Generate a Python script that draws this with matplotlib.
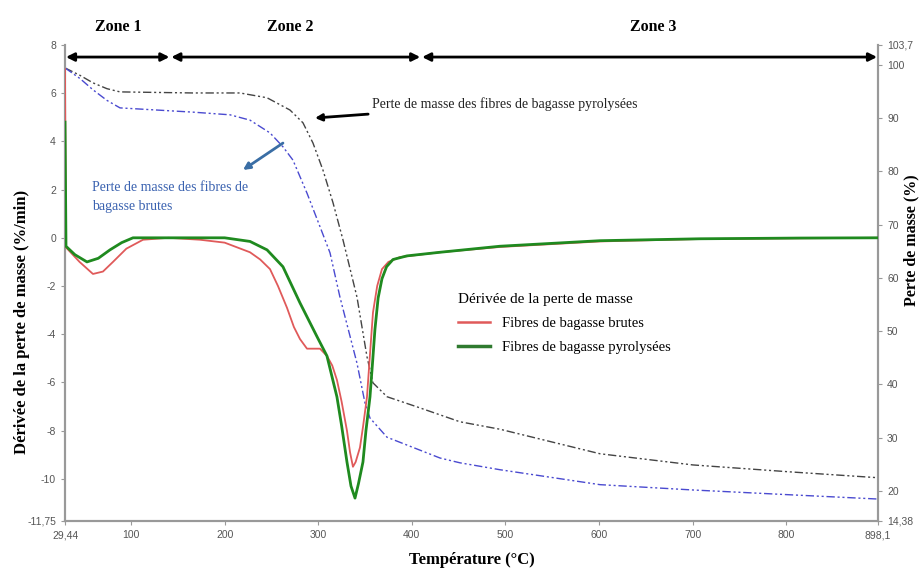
import numpy as np
import matplotlib
matplotlib.use("Agg")
import matplotlib.pyplot as plt
from matplotlib.lines import Line2D

# derivative curves (left axis, %/min)
T_brutes = [29.44, 30.5, 45, 59.3, 70, 80.7, 95, 112.8, 140, 173.7, 200, 227.1, 238, 248.5, 257,
            266.6, 274, 280.5, 288.0, 301.9, 309.3, 315, 320.0, 325, 330.7, 334, 337.1, 340,
            344.6, 348, 352.1, 355, 358.5, 363, 368.1, 375, 387.3, 430.1, 494, 601, 708, 815,
            898.1]
dtg_brutes = [7.0, -0.4, -1.0, -1.5, -1.4, -1.0, -0.45, -0.08, 0.0, -0.08, -0.2, -0.6, -0.9,
              -1.3, -2.0, -2.9, -3.7, -4.2, -4.6, -4.6, -4.9, -5.3, -5.9, -6.8, -8.0, -8.9,
              -9.5, -9.3, -8.7, -7.8, -6.6, -5.0, -3.1, -2.0, -1.3, -1.0, -0.8, -0.6, -0.38,
              -0.15, -0.05, -0.02, 0.0]

T_pyro = [29.44, 30.5, 40, 52.9, 65, 77.5, 90, 102.1, 140, 200, 227.1, 245.3, 262.3, 280.5,
          298.7, 309.3, 320.0, 325, 330.7, 335, 339.3, 343, 347.8, 351, 355.3, 358, 360.6, 364,
          368.1, 373, 379.9, 394.8, 430.1, 494, 601, 708, 815, 898.1]
dtg_pyro = [4.8, -0.35, -0.7, -1.0, -0.85, -0.5, -0.2, 0.0, 0.0, 0.0, -0.15, -0.5, -1.2, -2.7,
            -4.1, -4.9, -6.6, -7.8, -9.3, -10.3, -10.8, -10.2, -9.3, -8.0, -6.6, -5.2, -3.8,
            -2.5, -1.7, -1.2, -0.9, -0.75, -0.6, -0.35, -0.12, -0.04, -0.01, 0.0]

# mass loss curves (right axis, %)
T_mass_pyro = [29.44, 45.5, 59.3, 74.3, 88.2, 166.2, 216.4, 245.3, 269.8, 283.7, 294.4, 305.1,
               315.8, 326.5, 341.4, 352.1, 358.5, 373.5, 405.5, 430.1, 451.4, 494.2, 601.0,
               700.4, 804.0, 898.1]
mass_pyro = [99.4, 98.0, 96.6, 95.5, 94.9, 94.7, 94.7, 93.8, 91.5, 89.1, 85.3, 80.2,
             74.1, 67.1, 56.4, 45.2, 40.3, 37.7, 35.8, 34.3, 33.0, 31.6, 27.0,
             24.9, 23.6, 22.5]

T_mass_brutes = [29.44, 45.5, 59.3, 74.3, 88.2, 166.2, 205.7, 227.1, 248.5, 262.3, 273.0, 288.0,
                 301.9, 312.6, 323.2, 341.4, 350.0, 355.3, 373.5, 430.1, 451.4, 494.2, 601.0,
                 700.4, 804.0, 898.1]
mass_brutes = [99.4, 97.4, 95.3, 93.3, 91.9, 91.1, 90.6, 89.6, 87.2, 84.6, 82.1, 75.9,
               69.6, 64.7, 56.4, 44.0, 36.5, 33.7, 30.1, 26.2, 25.3, 24.0, 21.2,
               20.2, 19.3, 18.5]

zones = ["Zone 1", "Zone 2", "Zone 3"]
zone_limits = [29.44, 142, 410, 898.1]

left_ticks = [8, 6, 4, 2, 0, -2, -4, -6, -8, -10, -11.75]
left_labels = ["8", "6", "4", "2", "0", "-2", "-4", "-6", "-8", "-10", "-11,75"]
right_ticks = [103.7, 100, 90, 80, 70, 60, 50, 40, 30, 20, 14.38]
right_labels = ["103,7", "100", "90", "80", "70", "60", "50", "40", "30", "20", "14,38"]
x_ticks = [29.44, 100, 200, 300, 400, 500, 600, 700, 800, 898.1]
x_labels = ["29,44", "100", "200", "300", "400", "500", "600", "700", "800", "898,1"]

serif = "Liberation Serif"
sans = "Liberation Sans"

fig = plt.figure(figsize=(9.21, 5.72), dpi=100)
ax = fig.add_axes([65 / 921, 1 - 521 / 572, 813 / 921, 476 / 572])
ax2 = ax.twinx()

ax.set_xlim(29.44, 898.1)
ax.set_ylim(-11.75, 8)
ax2.set_ylim(14.38, 103.7)

dashdotdot = (0, (6, 2, 1.5, 2, 1.5, 2))
ax2.plot(T_mass_pyro, mass_pyro, color="#444444", lw=1.0, linestyle=dashdotdot)
ax2.plot(T_mass_brutes, mass_brutes, color="#4a4ad0", lw=1.0, linestyle=dashdotdot)

ax.plot(T_brutes, dtg_brutes, color="#e05a5a", lw=1.3, zorder=3)
ax.plot(T_pyro, dtg_pyro, color="#1f8a1f", lw=2.0, zorder=4)
ax.set_zorder(ax2.get_zorder() + 1)
ax.patch.set_visible(False)

for a in (ax, ax2):
    a.spines["top"].set_visible(False)
    for s in a.spines.values():
        s.set_color("#999999")
        s.set_linewidth(1.5)
ax.set_xticks(x_ticks)
ax.set_xticklabels(x_labels)
ax.set_yticks(left_ticks)
ax.set_yticklabels(left_labels)
ax2.set_yticks(right_ticks)
ax2.set_yticklabels(right_labels)
for a in (ax, ax2):
    a.tick_params(axis="both", colors="#999999", labelcolor="#555555", labelsize=7.5,
                  length=3, direction="out")
    for lab in a.get_xticklabels() + a.get_yticklabels():
        lab.set_fontfamily(sans)

# zone arrows
for i in range(3):
    ax.annotate("", xy=(zone_limits[i] + 1, 7.5), xytext=(zone_limits[i + 1] - 1, 7.5),
                arrowprops=dict(arrowstyle="<|-|>", color="black", lw=2,
                                mutation_scale=12, shrinkA=0, shrinkB=0))
zone_x = [118, 290, 653]
for z, xp in zip(zones, zone_x):
    fig.text(xp / 921, 1 - 27 / 572, z, ha="center", va="center", fontsize=11.5,
             fontweight="bold", family=serif)

# annotations
ax2.annotate("Perte de masse des fibres de bagasse pyrolysées", xy=(296.5, 90.0),
             xytext=(357.4, 92.6), fontsize=10, family=serif, color="#222222", va="center",
             arrowprops=dict(arrowstyle="-|>", color="black", lw=2, mutation_scale=10,
                             shrinkA=3, shrinkB=0))
ax2.annotate("", xy=(219.6, 80.25), xytext=(262.3, 85.3),
             arrowprops=dict(arrowstyle="-|>", color="#3a6ea5", lw=2, mutation_scale=10,
                             shrinkA=0, shrinkB=0))
ax2.text(58, 75.2, "Perte de masse des fibres de\nbagasse brutes", fontsize=10, family=serif,
         color="#3a62b0", va="center", linespacing=1.6)

# legend
handles = [Line2D([], [], color="#e05a5a", lw=1.8), Line2D([], [], color="#2f7a2f", lw=2.5)]
leg = ax.legend(handles, ["Fibres de bagasse brutes", "Fibres de bagasse pyrolysées"],
                title="Dérivée de la perte de masse", loc="upper left",
                bbox_to_anchor=(445 / 921, 1 - 280 / 572), bbox_transform=fig.transFigure,
                frameon=False, prop={"family": serif, "size": 10.5},
                title_fontproperties={"family": serif, "size": 11}, alignment="left",
                handlelength=2.2, labelspacing=0.75)

fig.text(22 / 921, 1 - 322 / 572, "Dérivée de la perte de masse (%/min)", rotation=90,
         ha="center", va="center", fontsize=12, fontweight="bold", family=serif)
fig.text(911 / 921, 1 - 240 / 572, "Perte de masse (%)", rotation=90,
         ha="center", va="center", fontsize=11.5, fontweight="bold", family=serif)
fig.text(472 / 921, 1 - 560 / 572, "Température (°C)", ha="center", va="center",
         fontsize=12, fontweight="bold", family=serif)

fig.savefig("out.png", dpi=100)
